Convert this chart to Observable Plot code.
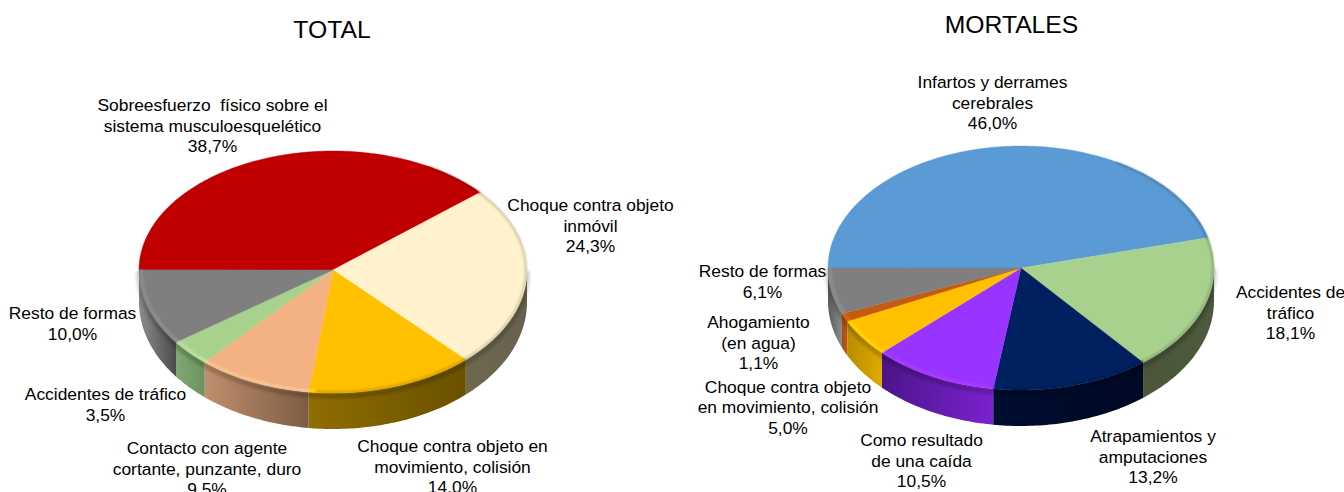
<!DOCTYPE html>
<html lang="es">
<head>
<meta charset="utf-8">
<title>Accidentes: total y mortales</title>
<script src="https://cdn.jsdelivr.net/npm/d3@7"></script>
<script src="https://cdn.jsdelivr.net/npm/@observablehq/plot@0.6"></script>
<style>
html,body{margin:0;padding:0;background:#fff;overflow:hidden}
</style>
</head>
<body>
<div id="chart"></div>
<script>
// ---- data ----
const totalCategories = [
  "Sobreesfuerzo  físico sobre el\nsistema musculoesquelético",
  "Choque contra objeto\ninmóvil",
  "Choque contra objeto en\nmovimiento, colisión",
  "Contacto con agente\ncortante, punzante, duro",
  "Accidentes de tráfico",
  "Resto de formas"
];
const totalValues = [38.7, 24.3, 14.0, 9.5, 3.5, 10.0];
const totalColors = ["#C00000", "#FFF2CC", "#FFC000", "#F4B183", "#A9D18E", "#7F7F7F"];

const mortalCategories = [
  "Infartos y derrames\ncerebrales",
  "Accidentes de\ntráfico",
  "Atrapamientos y\namputaciones",
  "Como resultado\nde una caída",
  "Choque contra objeto\nen movimiento, colisión",
  "Ahogamiento\n(en agua)",
  "Resto de formas"
];
const mortalValues = [46.0, 18.1, 13.2, 10.5, 5.0, 1.1, 6.1];
const mortalColors = ["#5B9BD5", "#A9D18E", "#002060", "#9933FF", "#FFC000", "#C55A11", "#7F7F7F"];

// ---- layout (separate from the data) ----
const totalWalls  = [null, ["#6f6850","#67614e"], ["#8f6e00","#6a5000"], ["#c08f6c","#7d5c45"], ["#80a870","#6f9160"], ["#8c8c8c","#4c4c4c"]];
const mortalWalls = [null, ["#4a5638","#4c5a3c"], ["#000c30","#000a26"], ["#4c1488","#7a22d0"], ["#b88c00","#e0aa00"], ["#a84c0e","#c05a12"], ["#5c5c5c","#8c8c8c"]];
const totalLabelAt  = [[212, 96], [590, 196], [452, 437], [206.5, 439], [105, 385], [72, 304]];
const mortalLabelAt = [[992, 73], [1290, 283], [1152.5, 427], [921, 431], [787.5, 377.5], [758, 313], [762, 262]];
const totalPie  = {cx: 332.5, cy: 269.5, rx: 194, ryBack: 119, ryFront: 123, depthSide: 32, depthFront: 36, id: "t"};
const mortalPie = {cx: 1020.5, cy: 267.5, rx: 193, ryBack: 122, ryFront: 122, depthSide: 33, depthFront: 36, id: "m"};
const fontFamily = "'Liberation Sans', Arial, sans-serif";

const DEG = Math.PI / 180;
const arcs = (values) => d3.pie().sort(null).startAngle(-Math.PI / 2).endAngle(1.5 * Math.PI)(values);
const pt = (p, a, k = 1, dz = 0) => ({
  x: p.cx + Math.sin(a) * p.rx * k,
  y: p.cy - Math.cos(a) * (Math.cos(a) > 0 ? p.ryBack : p.ryFront) * k + dz
});
const depthAt = (p, a) => p.depthSide + (p.depthFront - p.depthSide) * Math.max(0, -Math.cos(a));
const sweep = (a0, a1) => {
  const n = Math.max(2, Math.ceil(Math.abs(a1 - a0) / DEG));
  return d3.range(n + 1).map((i) => a0 + (a1 - a0) * i / n);
};
const face = (p, s) => [{x: p.cx, y: p.cy}, ...sweep(s.startAngle, s.endAngle).map((a) => pt(p, a))];
const wall = (p, s) => {
  const a0 = Math.max(s.startAngle, Math.PI / 2), a1 = Math.min(s.endAngle, 1.5 * Math.PI);
  if (a1 <= a0) return null;
  const angles = sweep(a0, a1);
  return [...angles.map((a) => pt(p, a)), ...angles.slice().reverse().map((a) => pt(p, a, 1, depthAt(p, a)))];
};
const rim = (p, s, lo, hi, k) => {
  const a0 = Math.max(s.startAngle, lo), a1 = Math.min(s.endAngle, hi);
  return a1 > a0 ? sweep(a0, a1).map((a) => pt(p, a, k)) : null;
};

function pieMarks(p, values, colors, walls) {
  const out = [];
  const slices = arcs(values);
  // side walls
  slices.forEach((s, i) => {
    const w = wall(p, s);
    if (w && walls[i]) out.push(Plot.line(w, {x: "x", y: "y", curve: "linear-closed", stroke: "none", fill: `url(#${p.id}w${i})`}));
  });
  // dark seam under the top face, soft
  const seam = sweep(Math.PI / 2, 1.5 * Math.PI).map((a) => pt(p, a, 1, 3));
  out.push(Plot.line(seam, {x: "x", y: "y", stroke: "#000", strokeWidth: 5, strokeOpacity: 0.2, imageFilter: "blur(1.5px)"}));
  // top faces
  slices.forEach((s, i) => {
    out.push(Plot.line(face(p, s), {x: "x", y: "y", curve: "linear-closed", fill: colors[i], stroke: colors[i], strokeWidth: 0.4}));
  });
  // bevel highlights on the front and left rim, shadow on the right rim
  slices.forEach((s, i) => {
    const base = d3.color(colors[i]);
    const hi = rim(p, s, 185 * DEG, 290 * DEG, 0.988);
    if (hi) out.push(Plot.line(hi, {x: "x", y: "y", stroke: base.brighter(0.7).formatHex(), strokeWidth: 2, strokeOpacity: 0.6, imageFilter: "blur(1px)"}));
    const lo = rim(p, s, 30 * DEG, 185 * DEG, 0.994);
    if (lo) out.push(Plot.line(lo, {x: "x", y: "y", stroke: base.darker(1.4).formatHex(), strokeWidth: 2, strokeOpacity: 0.5, imageFilter: "blur(1px)"}));
  });
  return out;
}

const pctText = (v) => v.toFixed(1).replace(".", ",") + "%";
const labelRows = (cats, vals, at) => cats.map((c, i) => ({text: c + "\n" + pctText(vals[i]), x: at[i][0], y: at[i][1]}));
const labels = [...labelRows(totalCategories, totalValues, totalLabelAt), ...labelRows(mortalCategories, mortalValues, mortalLabelAt)];
const titles = [{text: "TOTAL", x: 331.5, y: 30}, {text: "MORTALES", x: 1011, y: 25}];

const plot = Plot.plot({
  width: 1344, height: 492,
  margin: 0,
  x: {domain: [0, 1344], range: [0, 1344], axis: null},
  y: {domain: [0, 492], range: [0, 492], axis: null},
  style: {background: "#fff", fontFamily},
  marks: [
    ...pieMarks(totalPie, totalValues, totalColors, totalWalls),
    ...pieMarks(mortalPie, mortalValues, mortalColors, mortalWalls),
    Plot.text(labels, {x: "x", y: "y", text: "text", fontSize: 17.4, lineHeight: 1.18, lineAnchor: "top", textAnchor: "middle", fill: "#000"}),
    Plot.text(titles, {x: "x", y: "y", text: "text", fontSize: 24.7, textAnchor: "middle", lineAnchor: "middle", fill: "#000"})
  ]
});

// gradient definitions for the side walls
const NS = "http://www.w3.org/2000/svg";
const defs = document.createElementNS(NS, "defs");
[[totalPie, totalWalls], [mortalPie, mortalWalls]].forEach(([p, walls]) => walls.forEach((w, i) => {
  if (!w) return;
  const g = document.createElementNS(NS, "linearGradient");
  g.setAttribute("id", `${p.id}w${i}`);
  w.forEach((col, k) => {
    const st = document.createElementNS(NS, "stop");
    st.setAttribute("offset", k);
    st.setAttribute("stop-color", col);
    g.appendChild(st);
  });
  defs.appendChild(g);
}));
plot.insertBefore(defs, plot.firstChild);
document.getElementById("chart").appendChild(plot);
</script>
</body>
</html>
